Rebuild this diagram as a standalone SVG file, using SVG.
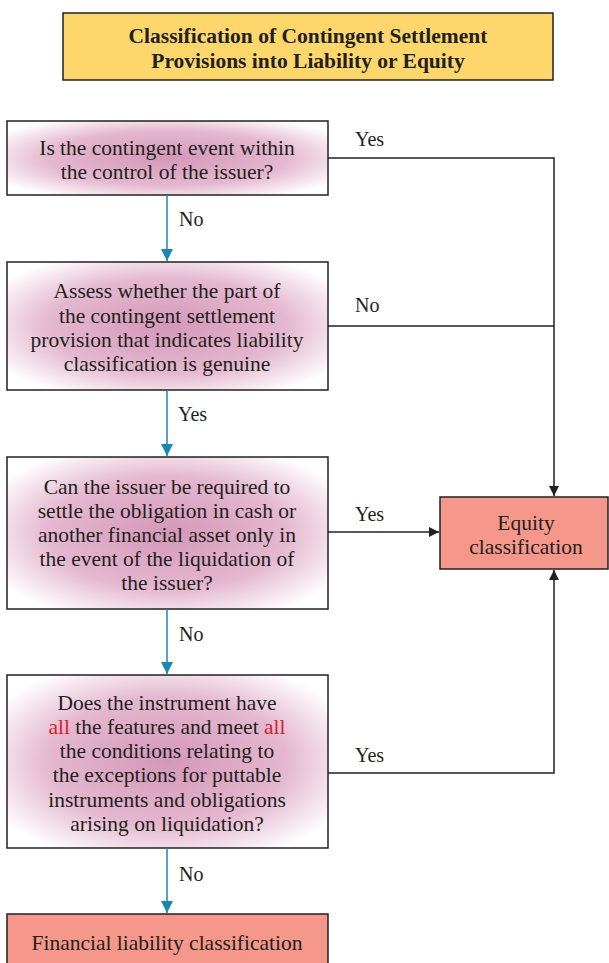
<svg xmlns="http://www.w3.org/2000/svg" width="609" height="963" viewBox="0 0 609 963">
<defs>
<radialGradient id="pink" cx="0.5" cy="0.5" r="0.62">
<stop offset="0" stop-color="#d497b8"/>
<stop offset="0.6" stop-color="#e4b8cf"/>
<stop offset="1" stop-color="#ffffff"/>
</radialGradient>
<marker id="ah" markerWidth="10" markerHeight="10" refX="10" refY="5" orient="auto" markerUnits="userSpaceOnUse" viewBox="0 0 10 10">
<path d="M0,0 L10,5 L0,10 z" fill="#231f20"/>
</marker>
<marker id="ahT" markerWidth="14" markerHeight="12" refX="12" refY="6" orient="auto" markerUnits="userSpaceOnUse" viewBox="0 0 12 12">
<path d="M0,0 L12,6 L0,12 z" fill="#1b87b0"/>
</marker>
</defs>
<style>
.q{fill:url(#pink);stroke:#231f20;stroke-width:1.5}
.r{fill:#f5978a;stroke:#231f20;stroke-width:1.5}
.t{font-size:21.5px;fill:#231f20;text-anchor:middle}
.lb{font-size:20px;fill:#231f20}
.red{fill:#d2232a}
.bl{fill:none;stroke:#231f20;stroke-width:1.5}
.tl{fill:none;stroke:#1b87b0;stroke-width:1.5}
</style>
<rect width="609" height="963" fill="#ffffff"/>
<g font-family="Liberation Serif, serif">
<g id="title">
<rect x="63" y="13" width="490" height="67" fill="#fdd76b" stroke="#231f20" stroke-width="1.5"/>
<text class="t" x="308" y="43" font-weight="bold">Classification of Contingent Settlement</text>
<text class="t" x="308" y="68" font-weight="bold">Provisions into Liability or Equity</text>
</g>
<g id="q1">
<rect class="q" x="7" y="121" width="321" height="74"/>
<text class="t" x="167" y="155">Is the contingent event within</text>
<text class="t" x="167" y="179">the control of the issuer?</text>
</g>
<g id="q2">
<rect class="q" x="7" y="262" width="321" height="128"/>
<text class="t" x="167" y="298">Assess whether the part of</text>
<text class="t" x="167" y="323">the contingent settlement</text>
<text class="t" x="167" y="347">provision that indicates liability</text>
<text class="t" x="167" y="371">classification is genuine</text>
</g>
<g id="q3">
<rect class="q" x="7" y="457" width="321" height="152"/>
<text class="t" x="167" y="494">Can the issuer be required to</text>
<text class="t" x="167" y="518">settle the obligation in cash or</text>
<text class="t" x="167" y="542">another financial asset only in</text>
<text class="t" x="167" y="566">the event of the liquidation of</text>
<text class="t" x="167" y="590">the issuer?</text>
</g>
<g id="q4">
<rect class="q" x="7" y="675" width="321" height="173"/>
<text class="t" x="167" y="710">Does the instrument have</text>
<text class="t" x="167" y="734"><tspan class="red">all</tspan> the features and meet <tspan class="red">all</tspan></text>
<text class="t" x="167" y="758">the conditions relating to</text>
<text class="t" x="167" y="782">the exceptions for puttable</text>
<text class="t" x="167" y="807">instruments and obligations</text>
<text class="t" x="167" y="831">arising on liquidation?</text>
</g>
<g id="equity">
<rect class="r" x="440" y="497" width="168" height="72"/>
<text class="t" x="526" y="530">Equity</text>
<text class="t" x="526" y="554">classification</text>
</g>
<g id="liability">
<rect class="r" x="7" y="914" width="321" height="60"/>
<text class="t" x="167" y="950">Financial liability classification</text>
</g>
<g id="connectors">
<path class="tl" d="M167,195 V261" marker-end="url(#ahT)"/>
<path class="tl" d="M167,390 V456" marker-end="url(#ahT)"/>
<path class="tl" d="M167,609 V674" marker-end="url(#ahT)"/>
<path class="tl" d="M167,848 V913" marker-end="url(#ahT)"/>
<path class="bl" d="M328,158 H554 V496" marker-end="url(#ah)"/>
<path class="bl" d="M328,326 H554"/>
<path class="bl" d="M328,532 H439" marker-end="url(#ah)"/>
<path class="bl" d="M328,773 H554 V570" marker-end="url(#ah)"/>
<text class="lb" x="179" y="226">No</text>
<text class="lb" x="178" y="421">Yes</text>
<text class="lb" x="179" y="641">No</text>
<text class="lb" x="179" y="881">No</text>
<text class="lb" x="355" y="146">Yes</text>
<text class="lb" x="355" y="312">No</text>
<text class="lb" x="355" y="521">Yes</text>
<text class="lb" x="355" y="762">Yes</text>
</g>
</g>
</svg>
